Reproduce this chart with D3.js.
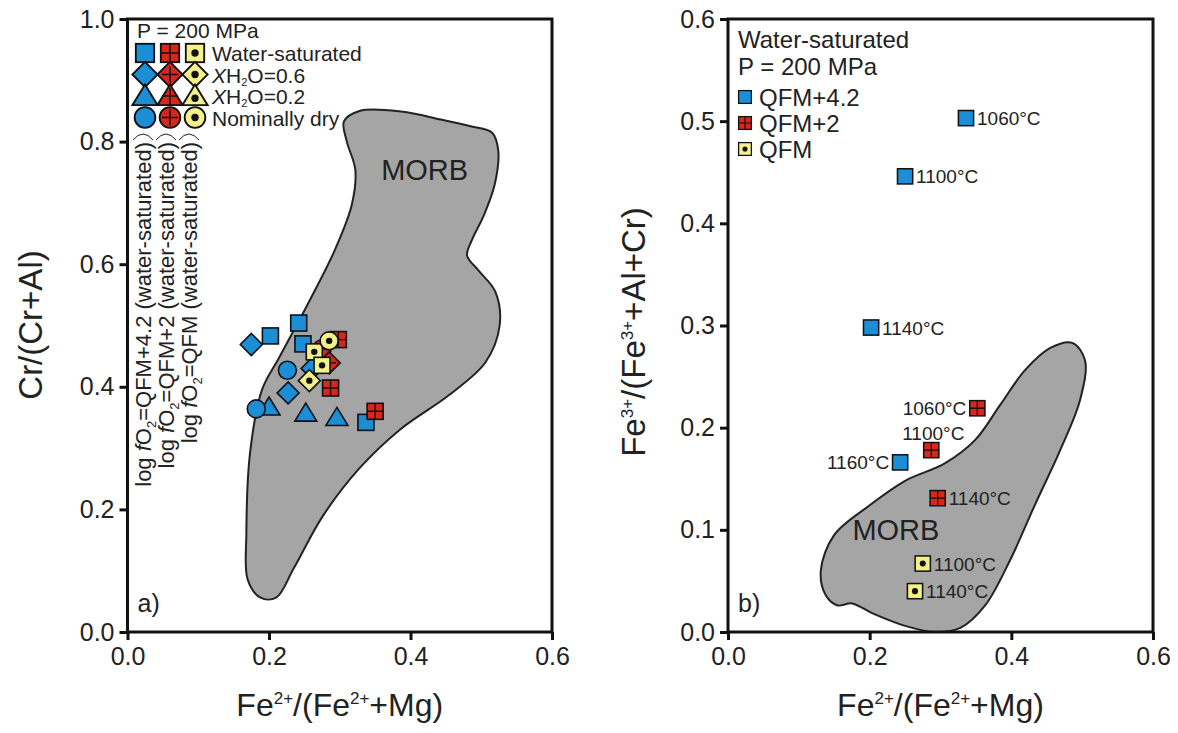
<!DOCTYPE html>
<html>
<head>
<meta charset='utf-8' />
<title>Spinel composition vs MORB</title>
<script src="https://d3js.org/d3.v7.min.js"></script>
<style>
body { margin: 0; padding: 0; background: #fff; }
svg text { font-family: "Liberation Sans", Arial, sans-serif; fill: #222; }
</style>
</head>
<body>
<div id="chart"></div>
<script>

// ---- data ----
var xTicks = [0, 0.2, 0.4, 0.6];
var yTicksA = [0, 0.2, 0.4, 0.6, 0.8, 1.0];
var yTicksB = [0, 0.1, 0.2, 0.3, 0.4, 0.5, 0.6];

// panel a) : [x, y, shape, buffer]
var pointsA = [
  [0.202, 0.483, "square", "QFM+4.2"],
  [0.242, 0.504, "square", "QFM+4.2"],
  [0.248, 0.470, "square", "QFM+4.2"],
  [0.337, 0.342, "square", "QFM+4.2"],
  [0.175, 0.469, "diamond", "QFM+4.2"],
  [0.227, 0.390, "diamond", "QFM+4.2"],
  [0.261, 0.430, "diamond", "QFM+4.2"],
  [0.200, 0.367, "triangle", "QFM+4.2"],
  [0.252, 0.357, "triangle", "QFM+4.2"],
  [0.296, 0.350, "triangle", "QFM+4.2"],
  [0.182, 0.364, "circle", "QFM+4.2"],
  [0.226, 0.427, "circle", "QFM+4.2"],
  [0.275, 0.462, "circle", "QFM+2"],
  [0.298, 0.477, "square", "QFM+2"],
  [0.287, 0.398, "square", "QFM+2"],
  [0.350, 0.360, "square", "QFM+2"],
  [0.285, 0.439, "diamond", "QFM+2"],
  [0.264, 0.457, "square", "QFM"],
  [0.275, 0.435, "square", "QFM"],
  [0.257, 0.410, "diamond", "QFM"],
  [0.285, 0.475, "circle", "QFM"]
];

// panel b) : [x, y, buffer, label, label side]
var pointsB = [
  [0.336, 0.503, "QFM+4.2", "1060°C", "right"],
  [0.250, 0.446, "QFM+4.2", "1100°C", "right"],
  [0.202, 0.298, "QFM+4.2", "1140°C", "right"],
  [0.243, 0.166, "QFM+4.2", "1160°C", "left"],
  [0.352, 0.219, "QFM+2", "1060°C", "left"],
  [0.287, 0.178, "QFM+2", "1100°C", "top"],
  [0.296, 0.131, "QFM+2", "1140°C", "right"],
  [0.275, 0.067, "QFM", "1100°C", "right"],
  [0.264, 0.040, "QFM", "1140°C", "right"]
];

// MORB fields (x, y)
var morbA = [
  [0.306, 0.833], [0.328, 0.850], [0.387, 0.849], [0.443, 0.836], [0.485, 0.825],
  [0.515, 0.815], [0.524, 0.786], [0.519, 0.730], [0.503, 0.678], [0.487, 0.640],
  [0.480, 0.614], [0.496, 0.590], [0.520, 0.555], [0.526, 0.500], [0.506, 0.440],
  [0.455, 0.387], [0.385, 0.330], [0.327, 0.266], [0.276, 0.189], [0.235, 0.104],
  [0.210, 0.056], [0.188, 0.056], [0.170, 0.085], [0.168, 0.160], [0.173, 0.290],
  [0.190, 0.395], [0.215, 0.449], [0.258, 0.542], [0.293, 0.623], [0.317, 0.697],
  [0.322, 0.754], [0.310, 0.800]
];
var morbB = [
  [0.131, 0.060], [0.150, 0.095], [0.200, 0.124], [0.250, 0.148], [0.306, 0.165],
  [0.349, 0.188], [0.384, 0.222], [0.419, 0.256], [0.455, 0.278], [0.486, 0.283],
  [0.504, 0.266], [0.497, 0.227], [0.469, 0.178], [0.433, 0.124], [0.398, 0.070],
  [0.363, 0.026], [0.328, 0.004], [0.292, 0.000], [0.250, 0.006], [0.205, 0.018],
  [0.175, 0.028], [0.155, 0.026], [0.138, 0.036]
];

var legendRowsA = ["Water-saturated", "XH2O=0.6", "XH2O=0.2", "Nominally dry"];
var legendShapesA = ["square", "diamond", "triangle", "circle"];
var buffers = ["QFM+4.2", "QFM+2", "QFM"];
var bufferNotes = ["QFM+4.2", "QFM+2", "QFM"];

var colors = { "QFM+4.2": "#1b8ed6", "QFM+2": "#d9261c", "QFM": "#f4f08a" };

// ---- layout ----
var W = 1178, H = 733;
var FONT = "'Liberation Sans', Arial, sans-serif";
var svg = d3.select("#chart").append("svg").attr("width", W).attr("height", H);

// k scales the symbol
function marker(g, shape, buffer, cx, cy, k) {
  k = k || 1;
  var fill = colors[buffer];
  var m = g.append("g").attr("transform", "translate(" + cx + "," + cy + ") scale(" + k + ")");
  var s = 8;
  if (shape == "square") {
    m.append("rect").attr("x", -s).attr("y", -s).attr("width", 2 * s).attr("height", 2 * s)
      .attr("fill", fill).attr("stroke", "#111").attr("stroke-width", 1.6);
  } else if (shape == "diamond") {
    m.append("path").attr("d", "M0,-11L11,0L0,11L-11,0Z")
      .attr("fill", fill).attr("stroke", "#111").attr("stroke-width", 1.6);
  } else if (shape == "triangle") {
    m.append("path").attr("d", "M0,-10L11,8L-11,8Z")
      .attr("fill", fill).attr("stroke", "#111").attr("stroke-width", 1.6);
  } else {
    m.append("circle").attr("r", 9)
      .attr("fill", fill).attr("stroke", "#111").attr("stroke-width", 1.6);
  }
  if (buffer == "QFM+2") {
    var a = shape == "square" ? s : 7;
    m.append("path").attr("d", "M-" + a + ",0H" + a + (shape == "triangle" ? "M0,-7V8" : "M0,-" + a + "V" + a))
      .attr("stroke", "#111").attr("stroke-width", 1.4);
  }
  if (buffer == "QFM") {
    m.append("circle").attr("r", 3.2).attr("cy", shape == "triangle" ? 2 : 0).attr("fill", "#111");
  }
}

function styleAxis(a) {
  a.select(".domain").remove();
  a.selectAll("line").attr("stroke", "#111").attr("stroke-width", 3);
  a.selectAll("text").attr("font-size", 25).attr("fill", "#222").attr("font-family", FONT);
}

function panel(x0, x1, yTicks, yMax, tag) {
  var x = d3.scaleLinear().domain([0, 0.6]).range([x0, x1]);
  var y = d3.scaleLinear().domain([0, yMax]).range([632, 19]);
  var g = svg.append("g");

  g.append("g").attr("transform", "translate(0,632)")
    .call(d3.axisBottom(x).tickValues(xTicks).tickFormat(d3.format(".1f")).tickSize(8).tickPadding(7))
    .call(styleAxis);
  g.append("g").attr("transform", "translate(" + x0 + ",0)")
    .call(d3.axisLeft(y).tickValues(yTicks).tickFormat(d3.format(".1f")).tickSize(8).tickPadding(5))
    .call(styleAxis);

  // x title
  var xt = g.append("text").attr("x", (x0 + x1) / 2).attr("y", 716).attr("text-anchor", "middle").attr("font-size", 32);
  xt.append("tspan").text("Fe");
  xt.append("tspan").attr("dy", -12).attr("font-size", 17).text("2+");
  xt.append("tspan").attr("dy", 12).text("/(Fe");
  xt.append("tspan").attr("dy", -12).attr("font-size", 17).text("2+");
  xt.append("tspan").attr("dy", 12).text("+Mg)");

  g.append("text").attr("x", x0 + 10).attr("y", 612).attr("font-size", 25).text(tag);

  return { x: x, y: y, g: g };
}

var A = panel(127.5, 552, yTicksA, 1.0, "a)");
var B = panel(728, 1153, yTicksB, 0.6, "b)");

// y titles
svg.append("text").attr("transform", "translate(42,325) rotate(-90)")
  .attr("text-anchor", "middle").attr("font-size", 33).text("Cr/(Cr+Al)");
var yt = svg.append("text").attr("transform", "translate(645,332) rotate(-90)")
  .attr("text-anchor", "middle").attr("font-size", 33);
yt.append("tspan").text("Fe");
yt.append("tspan").attr("dy", -12).attr("font-size", 17).text("3+");
yt.append("tspan").attr("dy", 12).text("/(Fe");
yt.append("tspan").attr("dy", -12).attr("font-size", 17).text("3+");
yt.append("tspan").attr("dy", 12).text("+Al+Cr)");

var morbLine = d3.line().curve(d3.curveCatmullRomClosed.alpha(0.5));

// ---- panel a ----
A.g.append("path")
  .attr("d", morbLine(morbA.map(function(d) { return [A.x(d[0]), A.y(d[1])]; })))
  .attr("fill", "#a5a5a5").attr("stroke", "#222").attr("stroke-width", 2);
A.g.append("text").attr("x", A.x(0.42)).attr("y", A.y(0.737)).attr("text-anchor", "middle")
  .attr("font-size", 29).text("MORB");

pointsA.forEach(function(d) { marker(A.g, d[2], d[3], A.x(d[0]), A.y(d[1])); });

// legend a
A.g.append("text").attr("x", 137).attr("y", 38).attr("font-size", 21).text("P = 200 MPa");
legendRowsA.forEach(function(r, i) {
  var cy = 53 + i * 21.5;
  buffers.forEach(function(b, j) { marker(A.g, legendShapesA[i], b, 145 + j * 25, cy, 1.15); });
  var t = A.g.append("text").attr("x", 212).attr("y", cy + 8).attr("font-size", 21);
  if (r.indexOf("XH2O") == 0) {
    t.append("tspan").attr("font-style", "italic").text("X");
    t.append("tspan").text("H");
    t.append("tspan").attr("dy", 3).attr("font-size", 11).text("2");
    t.append("tspan").attr("dy", -3).text(r.slice(3));
  } else {
    t.text(r);
  }
});

// vertical notes under legend columns
bufferNotes.forEach(function(n, j) {
  var cx = 143 + j * 23;
  A.g.append("path")
    .attr("d", "M" + (cx - 10) + ",140Q" + cx + ",128 " + (cx + 10) + ",140")
    .attr("fill", "none").attr("stroke", "#222").attr("stroke-width", 1);
  var t = A.g.append("text").attr("transform", "translate(" + (cx + 8) + ",142) rotate(-90)")
    .attr("text-anchor", "end").attr("font-size", 22);
  t.append("tspan").text("log ");
  t.append("tspan").attr("font-style", "italic").text("f");
  t.append("tspan").text("O");
  t.append("tspan").attr("dy", 5).attr("font-size", 13).text("2");
  t.append("tspan").attr("dy", -5).text("=" + n + " (water-saturated)");
});

// ---- panel b ----
B.g.append("path")
  .attr("d", morbLine(morbB.map(function(d) { return [B.x(d[0]), B.y(d[1])]; })))
  .attr("fill", "#a5a5a5").attr("stroke", "#222").attr("stroke-width", 2);
B.g.append("text").attr("x", B.x(0.237)).attr("y", B.y(0.09)).attr("text-anchor", "middle")
  .attr("font-size", 29).text("MORB");

pointsB.forEach(function(d) {
  var cx = B.x(d[0]), cy = B.y(d[1]);
  marker(B.g, "square", d[2], cx, cy, 0.95);
  var t = B.g.append("text").attr("font-size", 19).text(d[3]);
  if (d[4] == "right") t.attr("x", cx + 11).attr("y", cy + 7);
  else if (d[4] == "left") t.attr("x", cx - 11).attr("y", cy + 7).attr("text-anchor", "end");
  else t.attr("x", cx + 2).attr("y", cy - 10).attr("text-anchor", "middle");
});

// legend b
B.g.append("text").attr("x", 738).attr("y", 48).attr("font-size", 24).text("Water-saturated");
B.g.append("text").attr("x", 738).attr("y", 75).attr("font-size", 24).text("P = 200 MPa");
buffers.forEach(function(b, i) {
  var cy = 97 + i * 26;
  marker(B.g, "square", b, 745, cy, 0.8);
  B.g.append("text").attr("x", 759).attr("y", cy + 9).attr("font-size", 24).text(b);
});

// frames
[A, B].forEach(function(p) {
  p.g.append("rect")
    .attr("x", p.x(0)).attr("y", 19)
    .attr("width", p.x(0.6) - p.x(0)).attr("height", 632 - 19)
    .attr("fill", "none").attr("stroke", "#111").attr("stroke-width", 3);
});

</script>
</body>
</html>
